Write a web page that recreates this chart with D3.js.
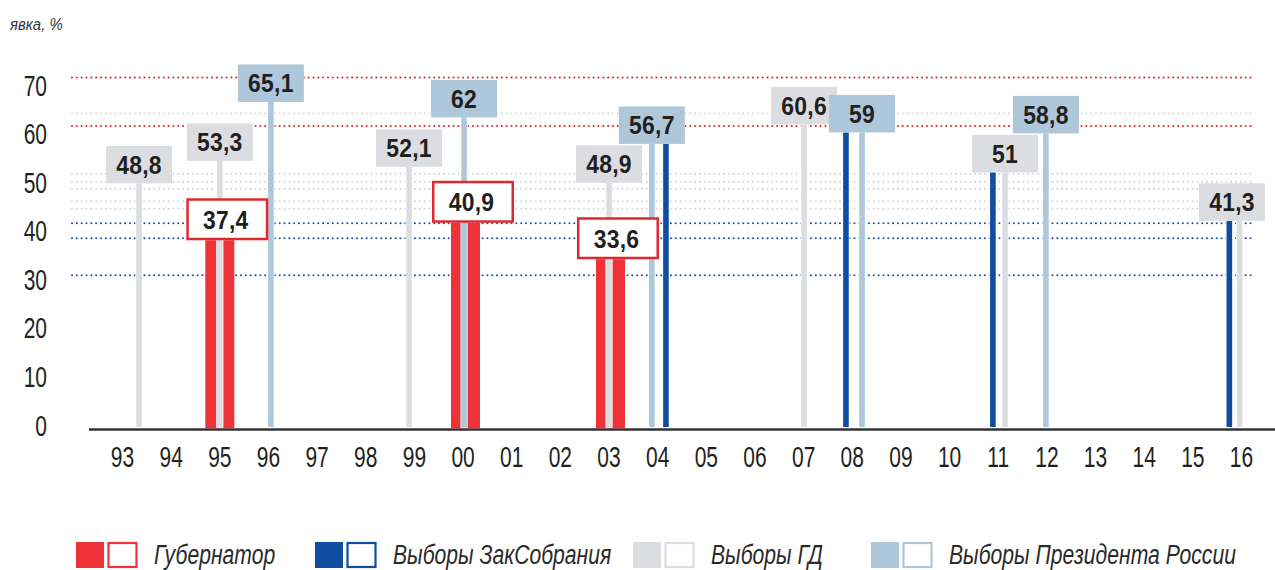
<!DOCTYPE html>
<html><head><meta charset="utf-8">
<script src="https://cdn.jsdelivr.net/npm/d3@7"></script>
<style>html,body{margin:0;padding:0;background:#fff;} svg{display:block}</style>
</head><body><svg id="c" width="1275" height="570"></svg>
<script>
// ---------------- DATA ----------------
const tickYears  = d3.range(1993, 2017);
const tickLabels = ["93","94","95","96","97","98","99","00","01","02","03","04","05","06","07","08","09","10","11","12","13","14","15","16"];
const yTicks     = [0, 10, 20, 30, 40, 50, 60, 70];

// Губернатор (time in decimal years, turnout %)
const govT  = [1995.0, 2000.05, 2003.03];
const govV  = [37.4, 40.9, 33.6];
// Выборы ЗакСобрания (held together with other elections, no own label)
const zsT   = [2004.17, 2007.87, 2010.89, 2015.75];
const zsV   = [56.7, 59, 51, 41.3];
// Выборы ГД
const gdT   = [1993.34, 1995.0, 1998.89, 2003.0, 2007.01, 2011.14, 2015.96];
const gdV   = [48.8, 53.3, 52.1, 48.9, 60.6, 51, 41.3];
// Выборы Президента России
const presT = [1996.05, 2000.02, 2003.88, 2008.2, 2011.98];
const presV = [65.1, 62, 56.7, 59, 58.8];

// dotted reference lines (values)
const redRefs  = [70, 60.3];
const blueRefs = [40.8, 37.8, 30.4];
const grayRefs = [62.8, 50.7, 49.1, 47.7, 45.2, 43.7];

const legendLabels = ["Губернатор", "Выборы ЗакСобрания", "Выборы ГД", "Выборы Президента России"];
const titleText = "явка, %";

// ---------------- STYLE / LAYOUT ----------------
const COL = {red:'#ee3237', redBorder:'#dd2a30', navy:'#0e4d9f', gray:'#dcdde0', lblue:'#aec7da',
             text:'#231f20', dotRed:'#e3262d', dotBlue:'#1c55a6', dotGray:'#d5d6d8', axis:'#333'};

function hasFont(name){
  const c = document.createElement('canvas').getContext('2d');
  const s = 'mmmmmmmmmmlli1WW0123456789';
  c.font = '40px monospace'; const a = c.measureText(s).width;
  c.font = '40px "' + name + '", monospace'; const b = c.measureText(s).width;
  return Math.abs(a - b) > 0.5;
}
const narrow = hasFont('Liberation Sans Narrow');
const FONT = narrow ? '"Liberation Sans Narrow", "Liberation Sans", sans-serif' : '"Liberation Sans", Arial, sans-serif';
const NK = narrow ? 1 / 0.82 : 1;   // compensation if a narrow face exists

const svg = d3.select('#c');
const x = d3.scaleLinear().domain([1993, 2016]).range([122.5, 1241.5]);
const y = d3.scaleLinear().domain([0, 70]).range([427, 77.5]);
const yLab = d3.scaleLinear().domain([0, 70]).range([425, 85]);   // axis label placement

function txt(g, tx, ty, s, o){
  const k = (o.k || 0.82) * NK;
  const t = g.append('text')
    .attr('transform', `translate(${tx},${ty}) scale(${k},1)`)
    .attr('font-family', FONT)
    .attr('font-size', o.size)
    .attr('fill', o.fill || COL.text)
    .attr('text-anchor', o.anchor || 'middle')
    .text(s);
  if (o.weight) t.attr('font-weight', o.weight);
  if (o.style) t.attr('font-style', o.style);
  if (o.ls) t.attr('letter-spacing', o.ls);
  return t;
}

// ---------------- DOTTED LINES ----------------
const gLines = svg.append('g');
function dotted(vals, color){
  gLines.selectAll(null).data(vals).enter().append('line')
    .attr('x1', 72).attr('x2', 1251)
    .attr('y1', d => y(d)).attr('y2', d => y(d))
    .attr('stroke', color).attr('stroke-width', 2.1)
    .attr('stroke-linecap', 'round').attr('stroke-dasharray', '0 4.83');
}
dotted(grayRefs, COL.dotGray);
dotted(redRefs, COL.dotRed);
dotted(blueRefs, COL.dotBlue);

// ---------------- AXIS ----------------
const xAxis = d3.axisBottom(x).tickValues([]).tickSize(0).tickSizeOuter(0);
const gx = svg.append('g').attr('transform', 'translate(0,429.5)').call(xAxis);
gx.select('.domain').remove();
gx.append('line').attr('x1', 89).attr('x2', 1275).attr('y1', 0).attr('y2', 0)
  .attr('stroke', COL.axis).attr('stroke-width', 2.6);

// ---------------- BARS ----------------
const gBars = svg.append('g');
const zip = (T, V) => T.map((t, i) => ({t, v: V[i]}));
const gov = zip(govT, govV), zs = zip(zsT, zsV), gd = zip(gdT, gdV), pres = zip(presT, presV);

gBars.selectAll('.gov').data(gov).enter().append('rect')
  .attr('x', d => x(d.t) - 14.5).attr('width', 29)
  .attr('y', d => y(d.v)).attr('height', d => y(0) + 1.3 - y(d.v))
  .attr('fill', COL.red);

function stems(data, color){
  gBars.selectAll(null).data(data).enter().append('rect')
    .attr('x', d => x(d.t) - 2.8).attr('width', 5.6)
    .attr('y', d => y(d.v)).attr('height', d => y(0) - y(d.v))
    .attr('fill', color).attr('stroke', '#fff').attr('stroke-width', 1.6)
    .attr('paint-order', 'stroke');
}
stems(gd, COL.gray);
stems(pres, COL.lblue);
stems(zs, COL.navy);

// ---------------- VALUE LABELS ----------------
const gLab = svg.append('g');
const fmt = v => String(v).replace('.', ',');
const LBL = {size: 26, weight: 'bold', k: 0.88, ls: 0.3};
function boxes(data, fill){
  data.forEach(d => {
    const cx = Math.min(x(d.t), 1232), bot = y(d.v);
    gLab.append('rect').attr('x', cx - 33).attr('y', bot - 37.5).attr('width', 66).attr('height', 37.5)
      .attr('fill', fill);
    txt(gLab, cx, bot - 9.5, fmt(d.v), LBL);
  });
}
boxes(gd, COL.gray);
boxes(pres, COL.lblue);
gov.forEach(d => {
  const cx = x(d.t), bot = y(d.v);
  gLab.append('rect').attr('x', cx - 33.5 + 1.25).attr('y', bot - 42 + 1.25)
    .attr('width', 82 - 2.5).attr('height', 42 - 2.5)
    .attr('fill', '#fff').attr('stroke', COL.redBorder).attr('stroke-width', 2.5);
  txt(gLab, cx + 6, bot - 11.5, fmt(d.v), LBL);
});

// ---------------- TICK LABELS ----------------
const gT = svg.append('g');
yTicks.forEach(v => txt(gT, 47, yLab(v) + 10.5, String(v), {size: 30, anchor: 'end', k: 0.7}));
tickYears.forEach((yr, i) => txt(gT, x(yr), 467, tickLabels[i], {size: 30, k: 0.7}));
txt(gT, 10, 30, titleText, {size: 17, style: 'italic', anchor: 'start', fill: '#333', k: 0.88});

// ---------------- LEGEND ----------------
const legendFill = [COL.red, COL.navy, COL.gray, COL.lblue];
const legendStroke = [COL.red, COL.navy, COL.gray, COL.lblue];
const legendX = [76, 315, 633, 871];
const gL = svg.append('g');
legendLabels.forEach((lab, i) => {
  const lx = legendX[i];
  gL.append('rect').attr('x', lx).attr('y', 542).attr('width', 28).attr('height', 26).attr('fill', legendFill[i]);
  gL.append('rect').attr('x', lx + 32.5).attr('y', 543).attr('width', 28).attr('height', 24)
    .attr('fill', '#fff').attr('stroke', legendStroke[i]).attr('stroke-width', 2.2);
  txt(gL, lx + 78, 564, lab, {size: 28, style: 'italic', anchor: 'start', fill: '#2a2a2a', k: 0.755});
});
</script>
</body></html>
